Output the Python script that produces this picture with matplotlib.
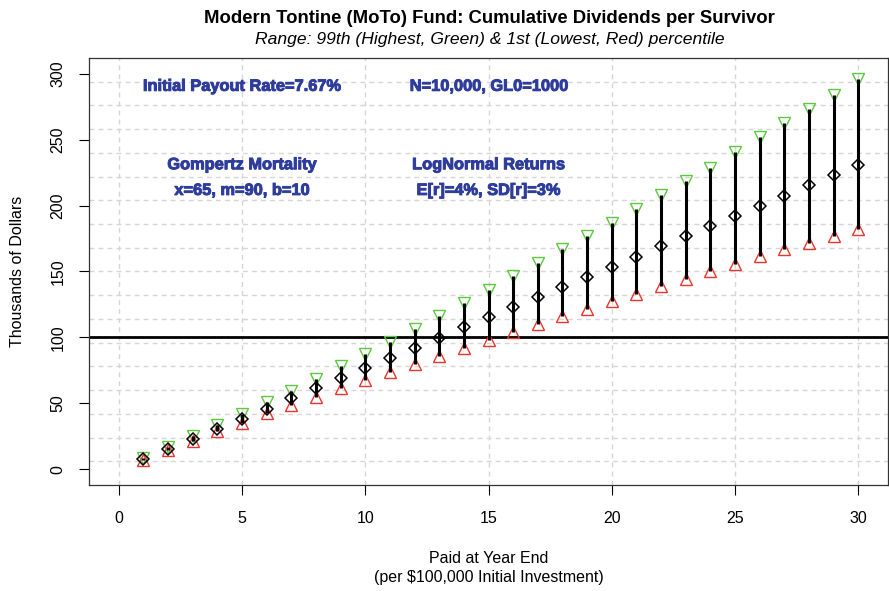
import matplotlib.pyplot as plt
import matplotlib.patheffects as pe
import numpy as np

plt.rcParams['font.family'] = ['Liberation Sans', 'DejaVu Sans']

years = np.arange(1, 31)
# cumulative dividends per survivor, thousands of dollars
median = [7.6, 15.0, 22.6, 30.4, 37.8, 45.7, 53.8, 61.4, 69.0, 76.6,
          84.2, 92.3, 99.5, 107.5, 115.2, 123.0, 130.7, 138.3, 145.9, 153.7,
          161.3, 169.0, 176.8, 184.4, 192.0, 199.6, 207.5, 215.4, 223.2, 230.8]
high = [8.3, 16.8, 25.3, 33.5, 41.9, 51.1, 59.6, 68.7, 78.4, 87.5,
        96.7, 106.3, 115.9, 126.1, 135.7, 146.4, 156.5, 166.7, 176.8, 187.0,
        197.6, 208.0, 218.7, 228.8, 240.3, 251.7, 262.6, 273.2, 284.2, 296.0]
low = [7.2, 14.3, 21.3, 28.9, 35.0, 42.4, 48.7, 55.0, 61.4, 67.7,
       74.1, 79.9, 86.2, 92.3, 97.7, 104.0, 110.3, 115.9, 121.8, 127.3,
       133.2, 138.7, 144.4, 150.2, 155.8, 161.6, 166.7, 171.8, 176.8, 182.6]
initial = 100

blue = '#2e3d9c'

fig = plt.figure(figsize=(8.89, 5.91), dpi=100)
ax = fig.add_axes([0.1001, 0.1794, 0.8988, 0.7225])

# grid: vertical at ticks, horizontal split into 18 equal cells
ymin, ymax = -12, 312
for gx in range(0, 31, 5):
    ax.axvline(gx, color='#d6d6d6', lw=1, ls=(0, (3.5, 3)), zorder=0)
for gy in np.linspace(ymin, ymax, 19)[1:-1]:
    ax.axhline(gy, color='#d6d6d6', lw=1, ls=(0, (3.5, 3)), zorder=0)

ax.axhline(initial, color='black', lw=2, zorder=1)

ax.plot(years, high, ls='none', marker='v', ms=8.5, mfc='none', mec='#5cc840', mew=1, zorder=2)
ax.plot(years, low, ls='none', marker='^', ms=8.5, mfc='none', mec='#e8362c', mew=1, zorder=2)
ax.vlines(years, low, high, color='black', lw=2.2, zorder=3)
ax.plot(years, median, ls='none', marker='D', ms=6.5, mfc='none', mec='black', mew=1.1, zorder=4)

ax.set_xlim(-1.2, 31.2)
ax.set_ylim(ymin, ymax)
ax.set_xticks(range(0, 31, 5))
ax.set_yticks(range(0, 301, 50))
ax.tick_params(axis='both', direction='out', length=7, width=0.8, labelsize=11.5)
ax.tick_params(axis='x', pad=12)
ax.tick_params(axis='y', pad=10)
for lab in ax.get_yticklabels():
    lab.set_rotation(90)
    lab.set_va('center')
for sp in ax.spines.values():
    sp.set_linewidth(0.9)
    sp.set_color('#333333')

ax.set_ylabel('Thousands of Dollars', fontsize=11.5, labelpad=18)
ax.set_xlabel('Paid at Year End\n(per $100,000 Initial Investment)', fontsize=11.5,
              labelpad=18, linespacing=1.3)

fig.text(0.5507, 0.969, 'Modern Tontine (MoTo) Fund: Cumulative Dividends per Survivor',
         ha='center', va='center', fontsize=13.3, fontweight='bold')
fig.text(0.5507, 0.934, 'Range: 99th (Highest, Green) & 1st (Lowest, Red) percentile',
         ha='center', va='center', fontsize=12.6, style='italic')

ann = dict(ha='center', va='center', fontsize=11.8, fontweight='bold', color=blue,
           path_effects=[pe.withStroke(linewidth=0.7, foreground=blue)])
ax.text(5, 290.5, 'Initial Payout Rate=7.67%', **ann)
ax.text(15, 290.5, 'N=10,000, GL0=1000', **ann)
ax.text(5, 231, 'Gompertz Mortality', **ann)
ax.text(5, 211.5, 'x=65, m=90, b=10', **ann)
ax.text(15, 231, 'LogNormal Returns', **ann)
ax.text(15, 211.5, 'E[r]=4%, SD[r]=3%', **ann)

fig.savefig('out.png', dpi=100)
